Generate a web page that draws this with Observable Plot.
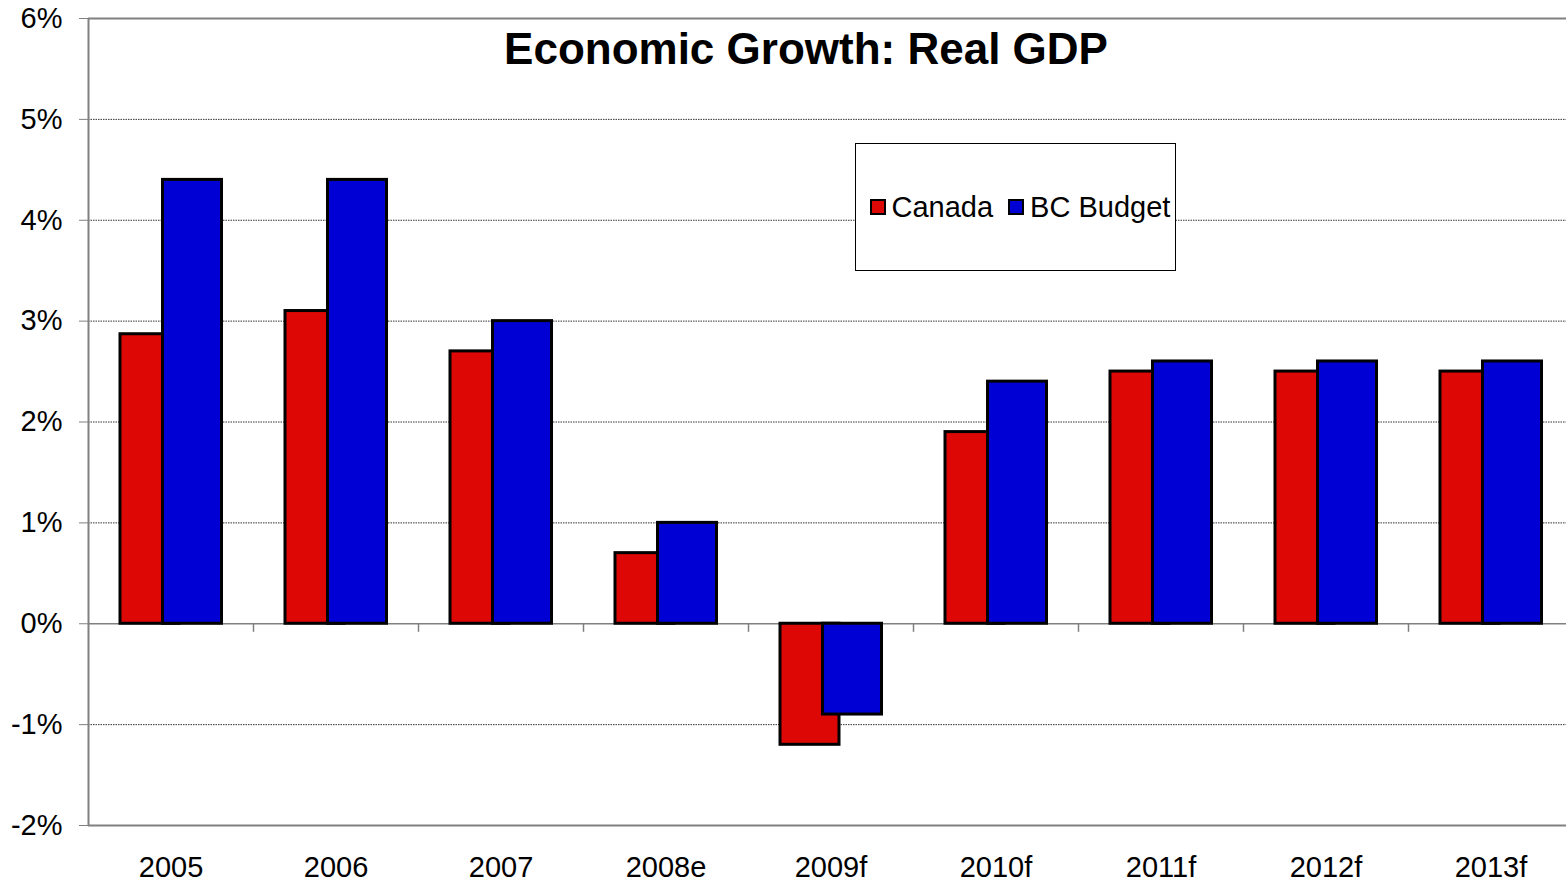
<!DOCTYPE html>
<html><head><meta charset="utf-8">
<script src="https://cdn.jsdelivr.net/npm/d3@7"></script>
<script src="https://cdn.jsdelivr.net/npm/@observablehq/plot@0.6"></script>
<style>
html,body{margin:0;padding:0;background:#fff;overflow:hidden;}
#wrap{position:relative;width:1566px;height:882px;overflow:hidden;font-family:"Liberation Sans",Arial,sans-serif;color:#000;}
#chart svg{max-width:none !important;}
#title{position:absolute;left:0;width:1612px;top:27px;text-align:center;font-size:44px;font-weight:bold;line-height:1;white-space:nowrap;}
#legend{position:absolute;left:855px;top:143px;width:321px;height:128px;box-sizing:border-box;border:1.5px solid #000;background:#fff;display:flex;align-items:center;padding-left:13.5px;font-size:29px;white-space:nowrap;}
#legend .item{display:flex;align-items:center;margin-right:15px;}
#legend .sw{width:16px;height:16px;box-sizing:border-box;border:2px solid #000;margin-right:6px;}
</style></head><body>
<div id="wrap"><div id="chart"></div><div id="title">Economic Growth: Real GDP</div><div id="legend"></div></div>
<script>
const categories = ["2005","2006","2007","2008e","2009f","2010f","2011f","2012f","2013f"];
const canada   = [2.87, 3.1, 2.7, 0.7, -1.2, 1.9, 2.5, 2.5, 2.5];
const bcBudget = [4.4, 4.4, 3.0, 1.0, -0.9, 2.4, 2.6, 2.6, 2.6];
const yTicks = [-2, -1, 0, 1, 2, 3, 4, 5, 6];
const seriesNames = ["Canada", "BC Budget"];
const seriesColors = ["#DD0806", "#0000D4"];

const W = 1573, H = 882, ML = 88, MR = 0, MT = 18, MB = 57;
const bw = (W - ML - MR) / categories.length;

const chart = Plot.plot({
  width: W, height: H,
  marginLeft: ML, marginRight: MR, marginTop: MT, marginBottom: MB,
  style: {fontFamily: "'Liberation Sans', Arial, sans-serif", color: "#000", background: "#fff", overflow: "visible", maxWidth: "none"},
  x: {type: "band", domain: categories, padding: 0, label: null},
  y: {domain: [-2, 6], label: null},
  marks: [
    Plot.ruleY(yTicks.filter(v => v > -2 && v < 6 && v !== 0), {stroke: "#333", strokeWidth: 1, strokeDasharray: "1.5,1"}),
    Plot.ruleY([6, -2], {stroke: "#808080", strokeWidth: 2}),
    Plot.ruleY([0], {stroke: "#808080", strokeWidth: 1.5}),
    Plot.ruleX([categories[0]], {dx: -bw / 2, y1: -2, y2: 6, stroke: "#808080", strokeWidth: 2}),
    Plot.ruleX(categories.slice(1), {dx: -bw / 2, y1: 0, y2: -0.085, stroke: "#808080", strokeWidth: 1.5}),
    Plot.barY(categories, {x: categories, y1: 0, y2: canada, fill: seriesColors[0], stroke: "#000", strokeWidth: 3, insetLeft: 32, insetRight: 74}),
    Plot.barY(categories, {x: categories, y1: 0, y2: bcBudget, fill: seriesColors[1], stroke: "#000", strokeWidth: 3, insetLeft: 74.5, insetRight: 31.5}),
    Plot.axisY({ticks: yTicks, tickFormat: d => d + "%", tickSize: 9, tickPadding: 17, fontSize: 29, stroke: "#808080", fill: "#000"}),
    Plot.axisX({tickSize: 0, tickPadding: 30.5, fontSize: 29, fill: "#000"})
  ]
});
document.getElementById("chart").appendChild(chart);

const legend = document.getElementById("legend");
seriesNames.forEach((name, i) => {
  const item = document.createElement("div");
  item.className = "item";
  const sw = document.createElement("div");
  sw.className = "sw";
  sw.style.background = seriesColors[i];
  const label = document.createElement("span");
  label.textContent = name;
  item.appendChild(sw);
  item.appendChild(label);
  legend.appendChild(item);
});
</script>
</body></html>
